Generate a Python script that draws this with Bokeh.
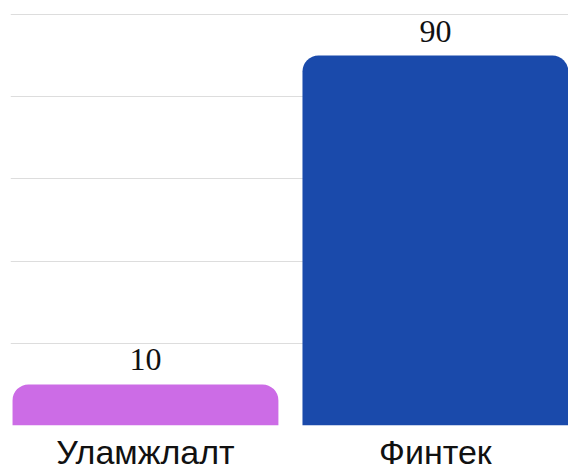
from bokeh.plotting import figure
from bokeh.models import ColumnDataSource, Range1d, FixedTicker
from bokeh.core.properties import value
from bokeh.embed import file_html
from bokeh.resources import INLINE

categories = ["Уламжлалт", "Финтек"]
values = [10, 90]
colors = ["#CC6CE6", "#1A4AAB"]
grid_ticks = [0, 20, 40, 60, 80, 100]

xs = [i + 0.5 for i in range(len(categories))]
source = ColumnDataSource(dict(
    x=xs, top=values, color=colors,
    label=[str(v) for v in values],
))

p = figure(width=568, height=473, output_backend="svg", toolbar_location=None,
           x_range=Range1d(0.0345, 1.959), y_range=Range1d(0, 103.4),
           min_border_left=10, min_border_right=0, min_border_top=0,
           min_border_bottom=48)
p.outline_line_color = None
p.background_fill_color = "white"
p.border_fill_color = "white"

p.vbar(x="x", top="top", bottom=0, width=0.917, color="color", source=source,
       line_color=None, border_radius=(16, 16, 0, 0))

p.text(x="x", y="top", text="label", source=source, text_align="center",
       text_baseline="bottom", y_offset=-14,
       text_font=value("Liberation Serif"), text_font_size="32px",
       text_color="#111111")

p.xgrid.visible = False
p.ygrid.ticker = FixedTicker(ticks=grid_ticks)
p.ygrid.grid_line_color = "#dddddd"
p.ygrid.grid_line_width = 1
p.yaxis.visible = False

p.xaxis.ticker = FixedTicker(ticks=xs)
p.xaxis.major_label_overrides = {x: c for x, c in zip(xs, categories)}
p.xaxis.axis_line_color = None
p.xaxis.major_tick_line_color = None
p.xaxis.minor_tick_line_color = None
p.xaxis.major_label_standoff = 1
p.xaxis.major_label_text_font = "Liberation Sans"
p.xaxis.major_label_text_font_size = "34px"
p.xaxis.major_label_text_color = "#111111"

open("out.html", "w").write(file_html(p, INLINE))
